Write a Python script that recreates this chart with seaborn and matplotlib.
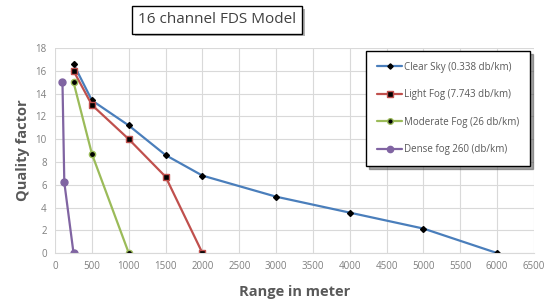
import pandas as pd
import matplotlib.pyplot as plt
import matplotlib.patheffects as pe
import seaborn as sns

clear_x = [250, 500, 1000, 1500, 2000, 3000, 4000, 5000, 6000]
clear_y = [16.6, 13.4, 11.2, 8.6, 6.8, 4.95, 3.55, 2.15, 0]
light_x = [250, 500, 1000, 1500, 2000]
light_y = [16, 13, 10, 6.7, 0]
moderate_x = [250, 500, 1000]
moderate_y = [15, 8.7, 0]
dense_x = [100, 125, 250]
dense_y = [15, 6.2, 0]

labels = ["Clear Sky (0.338 db/km)", "Light Fog (7.743 db/km)",
          "Moderate Fog (26 db/km)", "Dense fog 260 (db/km)"]

sns.set_style("white")
plt.rcParams['font.family'] = ['Open Sans', 'DejaVu Sans']

fig = plt.figure(figsize=(5.51, 3.06), dpi=100)
ax = fig.add_axes([0.1, 0.173, 0.869, 0.67])

series = [
    (clear_x, clear_y, "#4A7EBB", "D", 3, "black", "black"),
    (light_x, light_y, "#C0504D", "s", 5, "black", "#C0504D"),
    (moderate_x, moderate_y, "#9BBB59", "o", 4.5, "black", "#9BBB59"),
    (dense_x, dense_y, "#8064A2", "o", 5, "#8064A2", "#8064A2"),
]
for (xs, ys, col, mk, ms, mfc, mec), lab in zip(series, labels):
    df = pd.DataFrame({"x": xs, "y": ys})
    sns.lineplot(data=df, x="x", y="y", ax=ax, color=col, lw=1.6, marker=mk,
                 markersize=ms, markerfacecolor=mfc, markeredgecolor=mec,
                 markeredgewidth=1, sort=False, label=lab)

ax.set_xlim(0, 6500)
ax.set_ylim(0, 18)
ax.set_xticks(range(0, 6501, 500))
ax.set_yticks(range(0, 19, 2))
ax.grid(True, color="#D9D9D9", lw=0.8)
ax.tick_params(labelsize=7, colors="#7F7F7F", length=0, pad=6)
for s in ["top", "right", "left"]:
    ax.spines[s].set_visible(False)
ax.spines["bottom"].set_color("#D9D9D9")
ax.set_xlabel("Range in meter", fontsize=10.5, fontweight="bold", color="#595959", labelpad=9)
ax.set_ylabel("Quality factor", fontsize=10.5, fontweight="bold", color="#595959", labelpad=4)

leg = ax.legend(loc="upper left", bbox_to_anchor=(0.65, 0.985), frameon=True,
                fancybox=False, shadow=True, edgecolor="black", fontsize=7,
                labelspacing=1.7, handlelength=2.6, borderpad=1.1,
                handletextpad=0.2, borderaxespad=0, markerscale=0.9)
leg.get_frame().set_linewidth(1)
for t in leg.get_texts():
    t.set_color("#595959")

title = fig.text(0.394, 0.935, "16 channel FDS Model", ha="center", va="center",
                 fontsize=11, color="#404040",
                 bbox=dict(boxstyle="square,pad=0.4", fc="white", ec="black", lw=1))
title.get_bbox_patch().set_path_effects(
    [pe.withSimplePatchShadow(offset=(2, -2), shadow_rgbFace="black", alpha=0.3)])

fig.savefig("out.png", dpi=100)
